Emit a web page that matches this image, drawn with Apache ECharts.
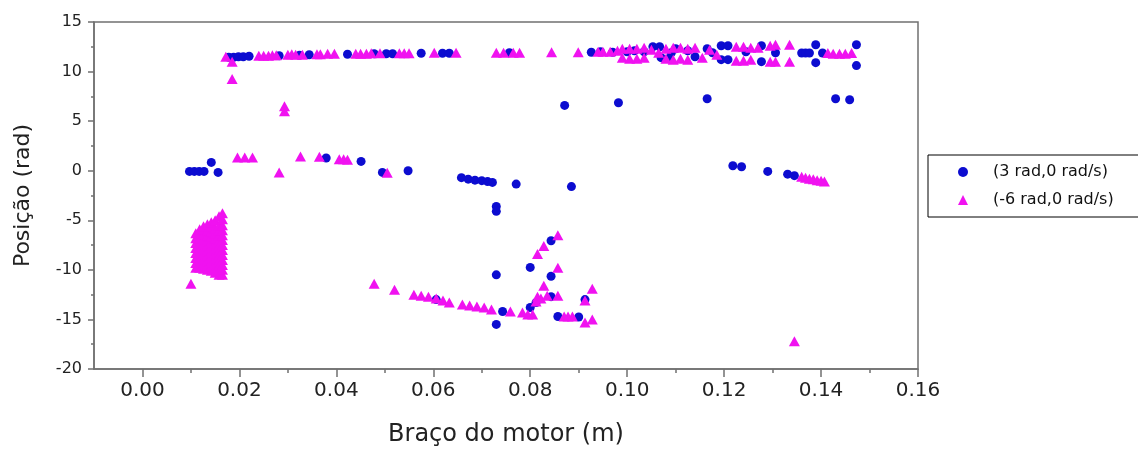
<!DOCTYPE html>
<html>
<head>
<meta charset="utf-8">
<script src="https://cdn.jsdelivr.net/npm/echarts@6/dist/echarts.min.js"></script>
<style>html,body{margin:0;padding:0;background:#fff}#c{width:1138px;height:450px}</style>
</head>
<body>
<div id="c"></div>
<script>
// ---- data ----
const seriesNames = ['(3 rad,0 rad/s)', '(-6 rad,0 rad/s)'];
const xTickLabels = [0, 0.02, 0.04, 0.06, 0.08, 0.10, 0.12, 0.14, 0.16];
const xMinorTicks = [0.01, 0.03, 0.05, 0.07, 0.09, 0.11, 0.13, 0.15];
const yTickLabels = [-20, -15, -10, -5, 0, 5, 10, 15];

const circlesX = [
  0.0097,0.0107,0.0117,0.0127,0.0142,0.0156,
  0.0178,0.0188,0.0198,0.0208,0.0220,0.0282,0.0324,0.0344,0.0423,0.0478,0.0503,0.0516,0.0575,0.0619,0.0633,0.0757,0.0926,
  0.0945,0.0970,0.1000,0.1015,0.1035,0.1053,0.1067,0.1070,0.1085,0.1091,0.1100,0.1125,0.1140,0.1165,0.1176,0.1194,0.1208,0.1194,0.1208,0.1245,0.1277,0.1277,0.1306,0.1360,0.1368,0.1376,0.1389,0.1389,0.1403,0.1473,0.1473,
  0.0871,0.0982,0.1165,0.1430,0.1459,
  0.0379,0.0451,0.0495,0.0548,0.0658,0.0672,0.0686,0.0700,0.0712,0.0722,0.0771,0.0885,
  0.1218,0.1236,0.1290,0.1331,0.1345,
  0.0730,0.0730,0.0730,0.0730,0.0743,0.0606,0.0800,0.0800,0.0843,0.0843,0.0843,0.0857,0.0900,0.0913,0.0812
];
const circlesY = [
  -0.07,-0.07,-0.07,-0.07,0.84,-0.17,
  11.45,11.45,11.5,11.5,11.55,11.6,11.65,11.7,11.75,11.8,11.8,11.8,11.85,11.85,11.85,11.9,11.95,
  12.0,11.95,12.0,12.1,12.0,12.5,12.5,11.4,11.3,11.9,12.3,12.1,11.5,12.3,11.9,12.6,12.6,11.2,11.2,12.0,12.6,11.0,11.9,11.87,11.87,11.87,12.7,10.9,11.87,12.7,10.6,
  6.59,6.86,7.26,7.26,7.16,
  1.28,0.94,-0.17,0.0,-0.7,-0.85,-0.95,-1.0,-1.1,-1.18,-1.35,-1.6,
  0.5,0.4,-0.07,-0.35,-0.5,
  -3.6,-4.1,-10.5,-15.5,-14.2,-13.0,-13.8,-9.75,-7.06,-10.65,-12.7,-14.7,-14.75,-13.0,-13.3
];

const trianglesX = [
  0.0100,
  0.0110,0.0110,0.0110,0.0110,0.0110,0.0110,0.0110,0.0110,
  0.0118,0.0118,0.0118,0.0118,0.0118,0.0118,0.0118,0.0118,0.0118,
  0.0126,0.0126,0.0126,0.0126,0.0126,0.0126,0.0126,0.0126,0.0126,0.0126,
  0.0134,0.0134,0.0134,0.0134,0.0134,0.0134,0.0134,0.0134,0.0134,0.0134,
  0.0142,0.0142,0.0142,0.0142,0.0142,0.0142,0.0142,0.0142,0.0142,0.0142,0.0142,
  0.0150,0.0150,0.0150,0.0150,0.0150,0.0150,0.0150,0.0150,0.0150,0.0150,0.0150,
  0.0158,0.0158,0.0158,0.0158,0.0158,0.0158,0.0158,0.0158,0.0158,0.0158,0.0158,0.0158,
  0.0165,0.0165,0.0165,0.0165,0.0165,0.0165,0.0165,0.0165,0.0165,0.0165,0.0165,0.0165,0.0165,
  0.0172,0.0185,0.0185,0.0240,0.0250,0.0260,0.0268,0.0276,0.0300,0.0308,0.0316,0.0330,0.0360,0.0367,0.0382,0.0396,0.0440,0.0450,0.0462,0.0472,0.0490,0.0530,0.0540,0.0550,0.0602,0.0647,0.0730,0.0745,0.0765,0.0778,0.0844,0.0899,
  0.0940,0.0950,0.0965,0.0980,0.0990,0.0990,0.1005,0.1005,0.1020,0.1020,0.1035,0.1035,0.1050,0.1065,0.1080,0.1080,0.1095,0.1095,0.1110,0.1110,0.1125,0.1125,0.1140,0.1155,0.1170,0.1185,0.1225,0.1225,0.1240,0.1240,0.1255,0.1255,0.1270,0.1295,0.1295,0.1306,0.1306,0.1335,0.1335,0.1414,0.1425,0.1438,0.1450,0.1463,
  0.0293,0.0293,0.0196,0.0211,0.0227,0.0282,0.0326,0.0365,0.0406,0.0415,0.0423,0.0505,
  0.1360,0.1368,0.1376,0.1384,0.1392,0.1400,0.1407,
  0.0478,0.0520,0.0560,0.0575,0.0590,0.0606,0.0620,0.0633,0.0660,0.0675,0.0690,0.0705,0.0720,0.0759,0.0784,0.0795,0.0805,0.0815,0.0828,0.0857,0.0815,0.0828,0.0857,0.0812,0.0822,0.0835,0.0857,0.0870,0.0878,0.0887,0.0913,0.0928,0.0913,0.0928,0.1345
];
const trianglesY = [
  -11.4,
  -9.8,-9.3,-8.8,-8.3,-7.8,-7.3,-6.8,-6.3,
  -9.8,-9.3,-8.8,-8.3,-7.8,-7.3,-6.8,-6.3,-5.9,
  -9.9,-9.4,-8.9,-8.4,-7.9,-7.4,-6.9,-6.4,-5.9,-5.6,
  -10.0,-9.5,-9.0,-8.5,-8.0,-7.5,-7.0,-6.5,-6.0,-5.4,
  -10.1,-9.6,-9.1,-8.6,-8.1,-7.6,-7.1,-6.6,-6.1,-5.6,-5.2,
  -10.3,-9.8,-9.3,-8.8,-8.3,-7.8,-7.3,-6.8,-6.3,-5.8,-5.0,
  -10.5,-10.0,-9.5,-9.0,-8.5,-8.0,-7.5,-7.0,-6.5,-6.0,-5.5,-4.6,
  -10.5,-10.0,-9.5,-9.0,-8.5,-8.0,-7.5,-7.0,-6.5,-6.0,-5.5,-4.9,-4.3,
  11.5,11.0,9.25,11.6,11.6,11.6,11.65,11.65,11.7,11.75,11.7,11.7,11.75,11.75,11.8,11.8,11.8,11.8,11.8,11.85,11.85,11.85,11.85,11.85,11.9,11.9,11.9,11.9,11.9,11.9,11.95,11.95,
  12.0,12.0,12.0,12.1,12.3,11.4,12.3,11.3,12.3,11.3,12.4,11.4,12.2,11.9,12.3,11.3,12.4,11.2,12.4,11.3,12.3,11.2,12.4,11.4,12.2,11.7,12.5,11.1,12.5,11.1,12.4,11.2,12.4,12.6,11.0,12.7,11.0,12.7,11.0,11.87,11.8,11.8,11.8,11.87,
  6.0,6.5,1.34,1.34,1.34,-0.17,1.44,1.4,1.15,1.15,1.1,-0.2,
  -0.6,-0.7,-0.8,-0.85,-0.95,-1.0,-1.1,
  -11.4,-12.0,-12.5,-12.6,-12.7,-12.9,-13.1,-13.3,-13.5,-13.6,-13.7,-13.8,-14.0,-14.2,-14.3,-14.5,-14.5,-8.4,-7.6,-6.5,-12.7,-11.6,-9.8,-13.2,-12.9,-12.6,-12.6,-14.7,-14.7,-14.7,-15.3,-15.0,-13.1,-11.9,-17.2
];

// ---- chart ----
const FONT = 'DejaVu Sans';
const AXIS_COLOR = '#707070';
const pairs = (xs, ys) => xs.map((x, i) => [x, ys[i]]);

const chart = echarts.init(document.getElementById('c'), null, {renderer: 'canvas'});
chart.setOption({
  animation: false,
  backgroundColor: '#fff',
  grid: {left: 94, right: 220, top: 22, bottom: 81, outerBoundsMode: 'none', containLabel: false,
    show: true, borderColor: AXIS_COLOR, borderWidth: 1.5, backgroundColor: 'transparent'},
  legend: {
    orient: 'vertical', left: 928, top: 155,
    padding: [9, 40, 9, 30], itemWidth: 10, itemHeight: 10, itemGap: 12,
    borderColor: '#000', borderWidth: 1,
    textStyle: {fontFamily: FONT, fontSize: 16, color: '#111', padding: [0, 0, 0, 20]},
    data: seriesNames
  },
  xAxis: [{
    type: 'value', min: -0.01, max: 0.16,
    name: 'Braço do motor (m)', nameLocation: 'middle', nameGap: 54,
    nameTextStyle: {fontFamily: FONT, fontSize: 24, color: '#222'},
    axisLine: {show: true, onZero: false, lineStyle: {color: AXIS_COLOR, width: 1.5}},
    axisTick: {show: true, customValues: xTickLabels, length: 8, lineStyle: {color: AXIS_COLOR, width: 1.5}},
    axisLabel: {customValues: xTickLabels, margin: 12, fontFamily: FONT, fontSize: 20, color: '#222', formatter: v => v.toFixed(2)},
    splitLine: {show: false}
  }, {
    type: 'value', min: -0.01, max: 0.16, position: 'bottom',
    axisLine: {show: false, onZero: false},
    axisTick: {show: true, customValues: xMinorTicks, length: 4, lineStyle: {color: AXIS_COLOR, width: 1.5}},
    axisLabel: {show: false},
    splitLine: {show: false}
  }],
  yAxis: {
    type: 'value', min: -20, max: 15, interval: 5,
    name: 'Posição (rad)', nameLocation: 'middle', nameGap: 60,
    nameTextStyle: {fontFamily: FONT, fontSize: 22, color: '#222'},
    axisLine: {show: true, onZero: false, lineStyle: {color: AXIS_COLOR, width: 1.5}},
    axisTick: {show: true, length: 6, lineStyle: {color: AXIS_COLOR, width: 1.5}},
    minorTick: {show: true, splitNumber: 2, length: 3, lineStyle: {color: AXIS_COLOR, width: 1.5}},
    axisLabel: {margin: 12, fontFamily: FONT, fontSize: 16, color: '#222'},
    splitLine: {show: false}
  },
  series: [{
    name: seriesNames[0], type: 'scatter', symbol: 'circle', symbolSize: 9,
    itemStyle: {color: '#0c0cd0', opacity: 1},
    data: pairs(circlesX, circlesY)
  }, {
    name: seriesNames[1], type: 'scatter', symbol: 'triangle', symbolSize: [11, 10],
    itemStyle: {color: '#f012f0', opacity: 1},
    data: pairs(trianglesX, trianglesY)
  }]
});
</script>
</body>
</html>
